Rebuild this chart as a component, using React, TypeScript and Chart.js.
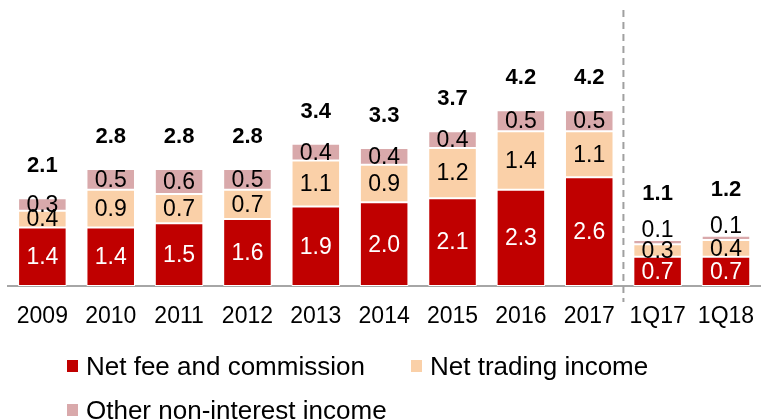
import React, { useEffect, useRef } from "react";
import { Chart, registerables } from "chart.js";

Chart.register(...registerables);

const categories = ["2009", "2010", "2011", "2012", "2013", "2014", "2015", "2016", "2017", "1Q17", "1Q18"];
const netFee = [1.4, 1.4, 1.5, 1.6, 1.9, 2.0, 2.1, 2.3, 2.6, 0.7, 0.7];
const netTrading = [0.4, 0.9, 0.7, 0.7, 1.1, 0.9, 1.2, 1.4, 1.1, 0.3, 0.4];
const otherIncome = [0.3, 0.5, 0.6, 0.5, 0.4, 0.4, 0.4, 0.5, 0.5, 0.1, 0.1];
const totals = [2.1, 2.8, 2.8, 2.8, 3.4, 3.3, 3.7, 4.2, 4.2, 1.1, 1.2];
const seriesNames = ["Net fee and commission", "Net trading income", "Other non-interest income"];
const seriesColors = ["#C00000", "#FAD0A8", "#D9A9AB"];

const SANS = '"Liberation Sans", Arial, sans-serif';

const labelPlugin = {
  id: "labels",
  afterDraw(chart: any) {
    const ctx = chart.ctx;
    const xs = chart.scales.x;
    // dashed separator
    const sepX = (xs.getPixelForValue(8) + xs.getPixelForValue(9)) / 2;
    ctx.save();
    ctx.strokeStyle = "#A0A0A0";
    ctx.lineWidth = 2;
    ctx.setLineDash([7, 5]);
    ctx.beginPath();
    ctx.moveTo(sepX, 10);
    ctx.lineTo(sepX, 302);
    ctx.stroke();
    ctx.restore();

    ctx.save();
    ctx.textAlign = "center";
    ctx.textBaseline = "middle";
    const topInfo: { top: number; labelY: number | null }[] = [];
    chart.data.datasets.forEach((ds: any, di: number) => {
      const meta = chart.getDatasetMeta(di);
      meta.data.forEach((el: any, i: number) => {
        const h = el.base - el.y;
        let y = (el.y + el.base) / 2;
        let above = false;
        if (h < 8) {
          y = el.y - 10;
          above = true;
        }
        ctx.font = "23px " + SANS;
        ctx.fillStyle = di === 0 ? "#FFFFFF" : "#000000";
        ctx.fillText(ds.data[i].toFixed(1), el.x, y + 1);
        if (di === chart.data.datasets.length - 1) {
          topInfo[i] = { top: el.y, labelY: above ? y : null };
        }
      });
    });
    ctx.font = "bold 22px " + SANS;
    ctx.fillStyle = "#000000";
    const meta0 = chart.getDatasetMeta(0);
    totals.forEach((t, i) => {
      const info = topInfo[i];
      const y = info.labelY !== null ? info.labelY - 36 : info.top - 32;
      ctx.fillText(t.toFixed(1), meta0.data[i].x, y);
    });
    ctx.restore();
  },
};

export default function App() {
  const ref = useRef<HTMLCanvasElement>(null);
  useEffect(() => {
    const chart = new Chart(ref.current!, {
      type: "bar",
      data: {
        labels: categories,
        datasets: [netFee, netTrading, otherIncome].map((d, k) => ({
          label: seriesNames[k],
          data: d,
          backgroundColor: seriesColors[k],
          borderColor: "#FFFFFF",
          borderWidth: 1,
          borderSkipped: false,
          barPercentage: 0.71,
          categoryPercentage: 1,
        })),
      },
      options: {
        animation: false,
        responsive: false,
        maintainAspectRatio: false,
        layout: { padding: { left: 6, right: 0, top: 10, bottom: 74 } },
        plugins: { legend: { display: false }, tooltip: { enabled: false } },
        scales: {
          x: {
            stacked: true,
            grid: { display: false, drawTicks: false },
            border: { display: true, color: "#A6A6A6", width: 2 },
            ticks: {
              color: "#000000",
              font: { family: SANS, size: 23 },
              padding: 17,
              maxRotation: 0,
              autoSkip: false,
            },
            afterFit(scale: any) {
              scale.height = 59;
            },
          },
          y: {
            stacked: true,
            display: false,
            min: 0,
            max: 6.6,
          },
        },
      },
      plugins: [labelPlugin],
    });
    return () => chart.destroy();
  }, []);

  const legendItem = (k: number, x: number, y: number) => (
    <div key={k} style={{ position: "absolute", left: x, top: y, height: 30, width: 400 }}>
      <span
        style={{ position: "absolute", left: 0, top: 9, width: 11, height: 12, background: seriesColors[k] }}
      />
      <span
        style={{
          position: "absolute",
          left: 19,
          top: 0,
          font: "26px " + SANS,
          lineHeight: "30px",
          color: "#000",
          whiteSpace: "nowrap",
        }}
      >
        {seriesNames[k]}
      </span>
    </div>
  );

  return (
    <div style={{ position: "fixed", left: 0, top: 0, width: 771, height: 419, background: "#fff" }}>
      <canvas ref={ref} width={771} height={419} style={{ position: "absolute", left: 0, top: 0 }} />
      {legendItem(0, 67, 351)}
      {legendItem(1, 411, 351)}
      {legendItem(2, 67, 395)}
    </div>
  );
}
